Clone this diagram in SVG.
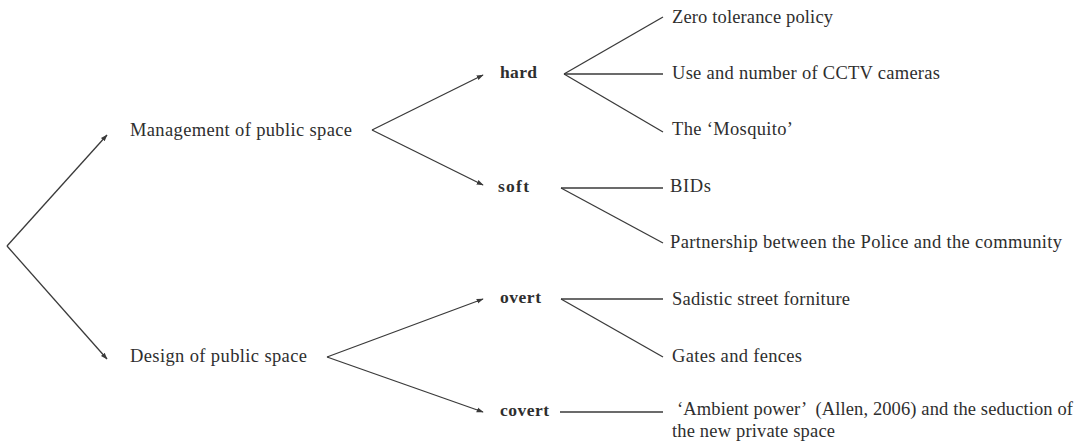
<svg xmlns="http://www.w3.org/2000/svg" width="1084" height="446" viewBox="0 0 1084 446">
  <defs>
    <marker id="arrow" viewBox="0 0 10 10" refX="9" refY="5" markerWidth="7" markerHeight="7" markerUnits="userSpaceOnUse" orient="auto">
      <path d="M0,1.5 L10,5 L0,8.5 Z" fill="#3a3a3a"/>
    </marker>
  </defs>
  <style>
    text { font-family: "Liberation Serif", "Times New Roman", serif; font-size: 18.5px; fill: #2e2e2e; }
    .bold { font-weight: bold; font-size: 17.5px; }
    .link { stroke: #3a3a3a; stroke-width: 1.3; fill: none; }
    .arrow { marker-end: url(#arrow); }
  </style>
  <rect width="1084" height="446" fill="#ffffff"/>

  <!-- connectors -->
  <g id="connectors">
    <!-- root fork -->
    <line class="link arrow" x1="7" y1="246" x2="107" y2="135"/>
    <line class="link arrow" x1="7" y1="246" x2="107" y2="359"/>
    <!-- management fork -->
    <line class="link arrow" x1="372" y1="130" x2="483" y2="75"/>
    <line class="link arrow" x1="372" y1="130" x2="483" y2="185"/>
    <!-- design fork -->
    <line class="link arrow" x1="327" y1="357" x2="483" y2="299"/>
    <line class="link arrow" x1="327" y1="357" x2="483" y2="412"/>
    <!-- hard -->
    <line class="link" x1="564" y1="74" x2="663" y2="17"/>
    <line class="link" x1="564" y1="74" x2="663" y2="74"/>
    <line class="link" x1="564" y1="74" x2="663" y2="132"/>
    <!-- soft -->
    <line class="link" x1="561" y1="188" x2="663" y2="188"/>
    <line class="link" x1="561" y1="188" x2="663" y2="243"/>
    <!-- overt -->
    <line class="link" x1="561" y1="299" x2="663" y2="299"/>
    <line class="link" x1="561" y1="299" x2="663" y2="357"/>
    <!-- covert -->
    <line class="link" x1="560" y1="412" x2="663" y2="412"/>
  </g>

  <g id="management"><text x="130" y="136" textLength="222" lengthAdjust="spacing">Management of public space</text></g>
  <g id="design"><text x="130" y="362" textLength="177" lengthAdjust="spacing">Design of public space</text></g>

  <g id="hard"><text class="bold" x="500" y="78" textLength="37" lengthAdjust="spacing">hard</text></g>
  <g id="soft"><text class="bold" x="498" y="192" textLength="31" lengthAdjust="spacing">soft</text></g>
  <g id="overt"><text class="bold" x="500" y="303" textLength="41" lengthAdjust="spacing">overt</text></g>
  <g id="covert"><text class="bold" x="500" y="416" textLength="49" lengthAdjust="spacing">covert</text></g>

  <g id="zero-tolerance"><text x="672" y="23" textLength="161" lengthAdjust="spacing">Zero tolerance policy</text></g>
  <g id="cctv"><text x="672" y="79" textLength="268" lengthAdjust="spacing">Use and number of CCTV cameras</text></g>
  <g id="mosquito"><text x="672" y="135" textLength="121" lengthAdjust="spacing">The ‘Mosquito’</text></g>
  <g id="bids"><text x="670" y="192" textLength="41" lengthAdjust="spacing">BIDs</text></g>
  <g id="partnership"><text x="670" y="248" textLength="392" lengthAdjust="spacing">Partnership between the Police and the community</text></g>
  <g id="sadistic"><text x="672" y="305" textLength="178" lengthAdjust="spacing">Sadistic street forniture</text></g>
  <g id="gates"><text x="672" y="362" textLength="130" lengthAdjust="spacing">Gates and fences</text></g>
  <g id="ambient">
    <text x="677" y="415" textLength="396" lengthAdjust="spacing" xml:space="preserve">‘Ambient power’  (Allen, 2006) and the seduction of</text>
    <text x="672" y="437" textLength="163" lengthAdjust="spacing">the new private space</text>
  </g>
</svg>
